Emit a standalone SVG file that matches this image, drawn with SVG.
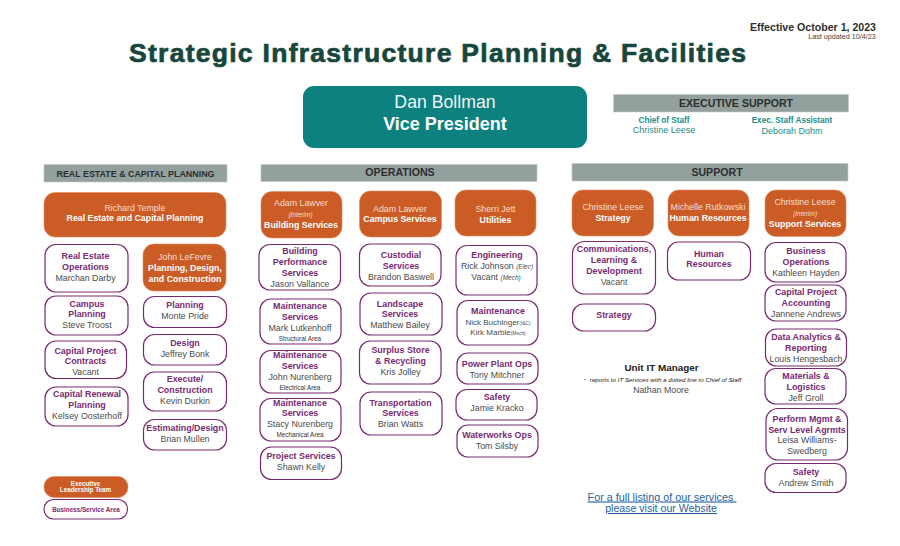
<svg xmlns="http://www.w3.org/2000/svg" width="900" height="546" viewBox="0 0 900 546">
<style>
text{font-family:"Liberation Sans",Arial,sans-serif;text-anchor:middle}
.o{fill:#cc5c26;stroke:#e08a5e;stroke-width:.6}
.w{fill:#fff;stroke:#7a2a72;stroke-width:1.2}
.h{fill:#94a09d;stroke:#c3cbc9;stroke-width:.6}
.b{font-size:8.9px;font-weight:700;fill:#7a2a72}
.n{font-size:8.8px;fill:#4b4b4b}
.s{font-size:6.4px;fill:#333}
.oi{font-size:8.8px;fill:#f6ddcf}
.ob{font-size:8.8px;font-weight:700;fill:#fff}
.it{font-size:6.5px;font-style:italic;fill:#f6ddcf}
.hd{font-size:10.6px;font-weight:700;fill:#2b2f2f}
.tb{font-size:8.2px;font-weight:700;fill:#1c8a88}
.tn{font-size:9px;fill:#1c8a88}
</style>
<g id="heading">
<text x="437.5" y="62" font-size="26.5" font-weight="700" fill="#17473c" stroke="#17473c" stroke-width=".7" textLength="617" lengthAdjust="spacing">Strategic Infrastructure Planning &amp; Facilities</text>
<text x="813" y="31" font-size="10.6" font-weight="700" fill="#2f2f2f">Effective October 1, 2023</text>
<text x="842" y="39" font-size="7.2" fill="#444">Last updated  10/4/23</text>
</g>
<g id="vp"><rect x="303" y="86" width="284" height="62" rx="11" fill="#0d8080"/>
<text x="445" y="108" font-size="17.700" fill="#f0f8f8">Dan Bollman</text><text x="445" y="129.500" font-size="18" font-weight="700" fill="#fff">Vice President</text></g>
<g id="exec-support"><rect class="h" x="613.500" y="94.500" width="235" height="17.500"/>
<text class="hd" x="736" y="106.500">EXECUTIVE SUPPORT</text>
<text class="tb" x="664" y="122.500">Chief of Staff</text><text class="tn" x="664" y="133">Christine Leese</text>
<text class="tb" x="792" y="123">Exec. Staff Assistant</text><text class="tn" x="792" y="133.500">Deborah Dohm</text></g>
<g id="hdr-re"><rect class="h" x="44" y="164.500" width="183" height="17.500"/><text class="hd" x="135.500" y="176.500" style="font-size:8.900px">REAL ESTATE &amp; CAPITAL PLANNING</text></g>
<g id="hdr-ops"><rect class="h" x="261" y="164.500" width="276" height="17"/><text class="hd" x="400" y="176">OPERATIONS</text></g>
<g id="hdr-sup"><rect class="h" x="572" y="163.500" width="276" height="17.500"/><text class="hd" x="717" y="175.500">SUPPORT</text></g>

<g id="richard"><rect class="o" x="44" y="192.500" width="182" height="44.500" rx="11"/><text class="oi" x="135" y="210.500">Richard Temple</text><text class="ob" x="135" y="221">Real Estate and Capital Planning</text></g>
<g id="re-ops"><rect class="w" x="45" y="244.500" width="83" height="47.500" rx="11"/><text class="b" x="85.500" y="259">Real Estate</text><text class="b" x="85.500" y="269.500">Operations</text><text class="n" x="85.500" y="280.500">Marchan Darby</text></g>
<g id="lefevre"><rect class="o" x="143" y="244" width="83" height="47" rx="11"/><text class="oi" x="185" y="260">John LeFevre</text><text class="ob" x="185" y="271">Planning, Design,</text><text class="ob" x="185" y="281.500">and Construction</text></g>
<g id="campus"><rect class="w" x="45" y="296" width="83" height="39" rx="11"/><text class="b" x="87" y="306.500">Campus</text><text class="b" x="87" y="317">Planning</text><text class="n" x="87" y="328">Steve Troost</text></g>
<g id="planning"><rect class="w" x="143.500" y="296.500" width="83" height="31" rx="11"/><text class="b" x="185" y="308">Planning</text><text class="n" x="185" y="318.500">Monte Pride</text></g>
<g id="design"><rect class="w" x="143.500" y="334.500" width="83" height="30.500" rx="11"/><text class="b" x="185" y="345.500">Design</text><text class="n" x="185" y="356.500">Jeffrey Bonk</text></g>
<g id="contracts"><rect class="w" x="45" y="341" width="81.500" height="37.500" rx="11"/><text class="b" x="85.500" y="354">Capital Project</text><text class="b" x="85.500" y="364">Contracts</text><text class="n" x="85.500" y="375">Vacant</text></g>
<g id="execute"><rect class="w" x="143.500" y="372" width="83" height="39" rx="11"/><text class="b" x="185" y="382">Execute/</text><text class="b" x="185" y="393">Construction</text><text class="n" x="185" y="404">Kevin Durkin</text></g>
<g id="renewal"><rect class="w" x="45" y="387" width="83" height="39" rx="11"/><text class="b" x="87" y="397">Capital Renewal</text><text class="b" x="87" y="408">Planning</text><text class="n" x="87" y="419">Kelsey Oosterhoff</text></g>
<g id="estimating"><rect class="w" x="143.500" y="419.500" width="83" height="30.500" rx="11"/><text class="b" x="185" y="431">Estimating/Design</text><text class="n" x="185" y="441.500">Brian Mullen</text></g>
<g id="legend-elt"><rect class="o" x="44" y="476.500" width="84" height="21" rx="10"/><text x="85.500" y="486" font-size="6.300" font-weight="700" fill="#fff">Executive</text><text x="85.500" y="491.800" font-size="6.300" font-weight="700" fill="#fff">Leadership Team</text></g>
<g id="legend-area"><rect class="w" x="44" y="499.500" width="83.500" height="19.500" rx="9.500"/><text class="b" x="86" y="511.500" style="font-size:6.300px">Business/Service Area</text></g>

<g id="lawver1"><rect class="o" x="261" y="191.500" width="81" height="46.500" rx="11"/><text class="oi" x="301" y="206">Adam Lawver</text><text class="it" x="300.500" y="216.500">(Interim)</text><text class="ob" x="301" y="227.500">Building Services</text></g>
<g id="lawver2"><rect class="o" x="359.500" y="191" width="82" height="46" rx="11"/><text class="oi" x="400" y="211.500">Adam Lawver</text><text class="ob" x="400" y="222">Campus Services</text></g>
<g id="jett"><rect class="o" x="455" y="190" width="81" height="46" rx="11"/><text class="oi" x="495.500" y="212">Sherri Jett</text><text class="ob" x="495.500" y="222.500">Utilities</text></g>
<g id="bps"><rect class="w" x="259" y="244.500" width="81.500" height="45.500" rx="11"/><text class="b" x="300" y="254">Building</text><text class="b" x="300" y="265">Performance</text><text class="b" x="300" y="275.500">Services</text><text class="n" x="300" y="286.500">Jason Vallance</text></g>
<g id="ms1"><rect class="w" x="260" y="299" width="81" height="45" rx="11"/><text class="b" x="300" y="309">Maintenance</text><text class="b" x="300" y="319.500">Services</text><text class="n" x="300" y="330.500">Mark Lutkenhoff</text><text class="s" x="300" y="341">Structural Area</text></g>
<g id="ms2"><rect class="w" x="260" y="350.500" width="81" height="42.500" rx="11"/><text class="b" x="300" y="358">Maintenance</text><text class="b" x="300" y="368.500">Services</text><text class="n" x="300" y="379.500">John Nurenberg</text><text class="s" x="300" y="389.500">Electrical Area</text></g>
<g id="ms3"><rect class="w" x="260" y="398.500" width="81" height="42.500" rx="11"/><text class="b" x="300" y="405.500">Maintenance</text><text class="b" x="300" y="416">Services</text><text class="n" x="300" y="427">Stacy Nurenberg</text><text class="s" x="300" y="437">Mechanical Area</text></g>
<g id="project"><rect class="w" x="260.500" y="447" width="81" height="32.500" rx="11"/><text class="b" x="301" y="459">Project Services</text><text class="n" x="301" y="469.500">Shawn Kelly</text></g>
<g id="custodial"><rect class="w" x="359.500" y="244" width="81.500" height="42" rx="11"/><text class="b" x="401" y="258">Custodial</text><text class="b" x="401" y="268.500">Services</text><text class="n" x="401" y="279.500">Brandon Baswell</text></g>
<g id="landscape"><rect class="w" x="360" y="293" width="82" height="42" rx="11"/><text class="b" x="400" y="306.500">Landscape</text><text class="b" x="400" y="316.500">Services</text><text class="n" x="400" y="327.500">Matthew Bailey</text></g>
<g id="surplus"><rect class="w" x="359.500" y="341" width="81.500" height="43" rx="11"/><text class="b" x="400.500" y="353">Surplus Store</text><text class="b" x="400.500" y="364">&amp; Recycling</text><text class="n" x="400.500" y="375">Kris Jolley</text></g>
<g id="transport"><rect class="w" x="360" y="392" width="82" height="43" rx="11"/><text class="b" x="400.500" y="405.500">Transportation</text><text class="b" x="400.500" y="416">Services</text><text class="n" x="400.500" y="427">Brian Watts</text></g>
<g id="engineering"><rect class="w" x="456" y="245.500" width="81" height="49.500" rx="11"/><text class="b" x="497" y="258">Engineering</text><text class="n" x="497" y="268.500">Rick Johnson <tspan font-size="6.500" font-style="italic">(Elec)</tspan></text><text class="n" x="496" y="279.500">Vacant <tspan font-size="6.500" font-style="italic">(Mech)</tspan></text></g>
<g id="maintenance"><rect class="w" x="457" y="300.500" width="81" height="44.500" rx="11"/><text class="b" x="498" y="314">Maintenance</text><text class="n" x="498" y="325" style="font-size:8px">Nick Buchinger<tspan font-size="4.800">(I&amp;C)</tspan></text><text class="n" x="498" y="335" style="font-size:8px">Kirk Marble<tspan font-size="4.800">(Mech)</tspan></text></g>
<g id="power"><rect class="w" x="457" y="353" width="81" height="31" rx="11"/><text class="b" x="497" y="367">Power Plant Ops</text><text class="n" x="497" y="378">Tony Mitchner</text></g>
<g id="safety-u"><rect class="w" x="456" y="389.500" width="81" height="30.500" rx="11"/><text class="b" x="497" y="399.500">Safety</text><text class="n" x="497" y="410.500">Jamie Kracko</text></g>
<g id="waterworks"><rect class="w" x="457" y="425" width="81" height="32" rx="11"/><text class="b" x="497" y="438">Waterworks Ops</text><text class="n" x="497" y="449">Tom Silsby</text></g>

<g id="leese1"><rect class="o" x="572" y="190" width="81.500" height="46" rx="11"/><text class="oi" x="613" y="210">Christine Leese</text><text class="ob" x="613" y="220.500">Strategy</text></g>
<g id="rutkowski"><rect class="o" x="668" y="190" width="81" height="46" rx="11"/><text class="oi" x="708" y="210">Michelle Rutkowski</text><text class="ob" x="708" y="220.500">Human Resources</text></g>
<g id="leese2"><rect class="o" x="765" y="190" width="81" height="46.500" rx="11"/><text class="oi" x="805" y="205">Christine Leese</text><text class="it" x="805" y="216">(Interim)</text><text class="ob" x="805" y="227">Support Services</text></g>
<g id="comm"><rect class="w" x="572.500" y="241.500" width="83" height="52.500" rx="12"/><text class="b" x="614" y="252">Communications,</text><text class="b" x="614" y="263">Learning &amp;</text><text class="b" x="614" y="274">Development</text><text class="n" x="614" y="284.500">Vacant</text></g>
<g id="strategy"><rect class="w" x="572.500" y="304" width="83" height="27" rx="11"/><text class="b" x="614" y="318">Strategy</text></g>
<g id="hr"><rect class="w" x="667.500" y="242" width="83" height="38" rx="11"/><text class="b" x="709" y="256.500">Human</text><text class="b" x="709" y="267">Resources</text></g>
<g id="business"><rect class="w" x="765" y="242.500" width="81" height="39.500" rx="11"/><text class="b" x="806" y="254">Business</text><text class="b" x="806" y="265">Operations</text><text class="n" x="806" y="275.500">Kathleen Hayden</text></g>
<g id="accounting"><rect class="w" x="765" y="285" width="81" height="36" rx="11"/><text class="b" x="806" y="295">Capital Project</text><text class="b" x="806" y="306">Accounting</text><text class="n" x="806" y="317">Jannene Andrews</text></g>
<g id="data"><rect class="w" x="765.500" y="329" width="81" height="37" rx="11"/><text class="b" x="806" y="340">Data Analytics &amp;</text><text class="b" x="806" y="351">Reporting</text><text class="n" x="806" y="362">Louis Hengesbach</text></g>
<g id="materials"><rect class="w" x="765" y="368.500" width="81" height="35.500" rx="11"/><text class="b" x="806" y="379">Materials &amp;</text><text class="b" x="806" y="390">Logistics</text><text class="n" x="806" y="401">Jeff Groll</text></g>
<g id="perform"><rect class="w" x="766" y="408.500" width="81.500" height="51.500" rx="12"/><text class="b" x="807" y="422">Perform Mgmt &amp;</text><text class="b" x="807" y="432.500">Serv Level Agrmts</text><text class="n" x="807" y="443">Leisa Williams-</text><text class="n" x="807" y="454">Swedberg</text></g>
<g id="safety-s"><rect class="w" x="765" y="463.500" width="81" height="29" rx="11"/><text class="b" x="806" y="475">Safety</text><text class="n" x="806" y="485.500">Andrew Smith</text></g>
<g id="it-manager"><text x="661.500" y="371" font-size="9.900" font-weight="700" fill="#222">Unit IT Manager</text><text x="665.500" y="382" font-size="6.200" font-style="italic" fill="#222">reports to IT Services with a dotted line to Chief of Staff</text><text x="585" y="381" font-size="7" fill="#222">-</text><text class="n" x="661" y="392.500">Nathan Moore</text></g>
<g id="website"><text x="662" y="500.500" font-size="10.800" fill="#1f5fa0" text-decoration="underline" xml:space="preserve">For a full listing of our services </text><text x="661" y="512" font-size="10.600" fill="#1f5fa0" text-decoration="underline">please visit our Website</text></g>
</svg>
